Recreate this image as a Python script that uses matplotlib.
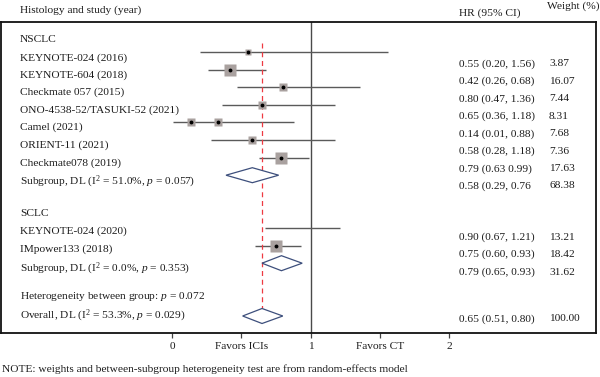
import matplotlib
matplotlib.use("Agg")
import matplotlib.pyplot as plt
import numpy as np
from matplotlib.patches import Polygon

plt.rcParams['font.family'] = ['Liberation Serif', 'DejaVu Serif']
plt.rcParams['mathtext.fontset'] = 'custom'
plt.rcParams['mathtext.rm'] = 'Liberation Serif'
plt.rcParams['mathtext.it'] = 'Liberation Serif:italic'

# ---------------- data ----------------
studies = ["KEYNOTE-024 (2016)", "KEYNOTE-604 (2018)", "Checkmate 057 (2015)",
           "ONO-4538-52/TASUKI-52 (2021)", "Camel (2021)", "ORIENT-11 (2021)",
           "Checkmate078 (2019)", "KEYNOTE-024 (2020)", "IMpower133 (2018)"]
study_group = ["NSCLC"] * 7 + ["SCLC"] * 2
hr = [0.55, 0.42, 0.80, 0.65, 0.14, 0.58, 0.79, 0.90, 0.75]
lo = [0.20, 0.26, 0.47, 0.36, 0.01, 0.28, 0.63, 0.67, 0.60]
hi = [1.56, 0.68, 1.36, 1.18, 0.88, 1.18, 0.99, 1.21, 0.93]
weights = [3.87, 16.07, 7.44, 8.31, 7.68, 7.36, 17.63, 13.21, 18.42]
box_shown = [True, True, True, True, True, True, True, False, True]
hr_text = ["0.55 (0.20, 1.56)", "0.42 (0.26, 0.68)", "0.80 (0.47, 1.36)",
           "0.65 (0.36, 1.18)", "0.14 (0.01, 0.88)", "0.58 (0.28, 1.18)",
           "0.79 (0.63 0.99)", "0.90 (0.67, 1.21)", "0.75 (0.60, 0.93)"]
weight_text = ["3.87", "16.07", "7.44", "8.31", "7.68", "7.36", "17.63", "13.21", "18.42"]

# extra box drawn on the Camel row
extra_box_hr = [0.33]
extra_box_study = ["Camel (2021)"]

# pooled estimates (diamonds)
pooled_names = ["NSCLC", "SCLC", "Overall"]
pooled_hr = [0.58, 0.79, 0.65]
pooled_lo = [0.39, 0.65, 0.51]
pooled_hi = [0.77, 0.94, 0.80]
pooled_label = [r"Subgroup, DL (I$^2$ = 51.0%, $p$ = 0.057)",
                r"Subgroup, DL (I$^2$ = 0.0%, $p$ = 0.353)",
                r"Overall, DL (I$^2$ = 53.3%, $p$ = 0.029)"]
pooled_hr_text = ["0.58 (0.29, 0.76", "0.79 (0.65, 0.93)", "0.65 (0.51, 0.80)"]
pooled_weight_text = ["68.38", "31.62", "100.00"]
heterogeneity_text = r"Heterogeneity between group: $p$ = 0.072"

tick_pos = [0, 0.5, 1, 1.5, 2]
tick_labels = ["0", "Favors ICIs", "1", "Favors CT", "2"]

# ---------------- layout (pixels) ----------------
W, H = 600, 377
PX0, PXU = 172.0, 138.5        # pixel of x=0 and pixels per unit
BOX_L, BOX_R, BOX_T, BOX_B = 1, 596, 22, 333
ROW0, STEP = 52.0, 17.6
study_rows = [0, 1, 2, 3, 4, 5, 6, 10, 11]
pooled_rows = [7, 12, 15]
LABEL_X, HR_X, WT_X = 20, 459, 549
FS = 8.2
TXT = '#1c1c1c'

fig = plt.figure(figsize=(W / 100, H / 100), dpi=100)
ax = fig.add_axes([BOX_L / W, 1 - BOX_B / H, (BOX_R - BOX_L) / W, (BOX_B - BOX_T) / H])
ax.set_xlim((BOX_L - PX0) / PXU, (BOX_R - PX0) / PXU)
ax.set_ylim(BOX_B, BOX_T)

def fx(px):
    return px / W

def fy(py):
    return 1 - py / H

def ftext(px, py_center, s, **kw):
    fig.text(fx(px), fy(py_center + 3.0), s, fontsize=FS, va='baseline', color=TXT, **kw)

line_col = '#5a5a5a'
box_col = '#a9a19f'
dia_col = '#3d4f7c'

def draw_box(xv, y, w):
    side_px = 2.85 * np.sqrt(w)
    ax.plot(xv, y, marker='s', ms=side_px * 0.72, color=box_col, mec='none', zorder=3)
    ax.plot(xv, y, marker='o', ms=2.8, color='black', mec='none', zorder=4)

# study lines & boxes
for i, name in enumerate(studies):
    y = ROW0 + STEP * study_rows[i]
    ax.hlines(y, lo[i], hi[i], color=line_col, lw=1.0, zorder=2)
    if box_shown[i]:
        draw_box(hr[i], y, weights[i])
for xh, nm in zip(extra_box_hr, extra_box_study):
    i = studies.index(nm)
    draw_box(xh, ROW0 + STEP * study_rows[i], weights[i])

# diamonds
for k in range(3):
    y = ROW0 + STEP * pooled_rows[k]
    h = 7.5
    poly = Polygon([[pooled_lo[k], y], [pooled_hr[k], y - h], [pooled_hi[k], y], [pooled_hr[k], y + h]],
                   closed=True, facecolor='white', edgecolor=dia_col, lw=0.9, zorder=3)
    ax.add_patch(poly)

# reference lines
ax.axvline(1, color='#4a4a4a', lw=1.0, zorder=1)
ax.vlines(pooled_hr[2], 43, 323, colors='#ee3a42', linestyles=(0, (4, 3)), lw=0.9, zorder=2)

# axes styling
for sp in ax.spines.values():
    sp.set_linewidth(1.3)
    sp.set_color('#111111')
ax.set_yticks([])
ax.set_xticks(tick_pos)
ax.set_xticklabels(tick_labels, fontsize=FS, color=TXT)
ax.tick_params(axis='x', direction='out', length=3.5, width=0.9, color='#444444', pad=3)

# headers
ftext(LABEL_X, 10, "Histology and study (year)")
ftext(HR_X, 12.3, "HR (95% CI)")
ftext(547, 6, "Weight (%)")

# left labels
ftext(LABEL_X, 39.3, "NSCLC")
ftext(LABEL_X, 213.3, "SCLC")
study_label_y = [57.3, 74.5, 91.8, 109.3, 126.8, 144.5, 162.3, 230.7, 248.3]
for i, name in enumerate(studies):
    ftext(LABEL_X, study_label_y[i], name)
pooled_label_y = [182.0, 268.3, 315.7]
for k in range(3):
    ftext(LABEL_X, pooled_label_y[k], pooled_label[k])
ftext(LABEL_X, 296, heterogeneity_text)

# right columns
study_hr_y = [63.3, 80.7, 98.3, 116.0, 133.3, 150.7, 168.3, 236.7, 254.0]
for i in range(len(studies)):
    ftext(HR_X, study_hr_y[i], hr_text[i])
    ftext(WT_X, study_hr_y[i], weight_text[i])
pooled_hr_y = [185.3, 271.7, 318.3]
for k in range(3):
    ftext(HR_X, pooled_hr_y[k], pooled_hr_text[k])
    ftext(WT_X, pooled_hr_y[k], pooled_weight_text[k])

# note
ftext(2, 369, "NOTE: weights and between-subgroup heterogeneity test are from random-effects model")

fig.savefig("out.png", dpi=100)
